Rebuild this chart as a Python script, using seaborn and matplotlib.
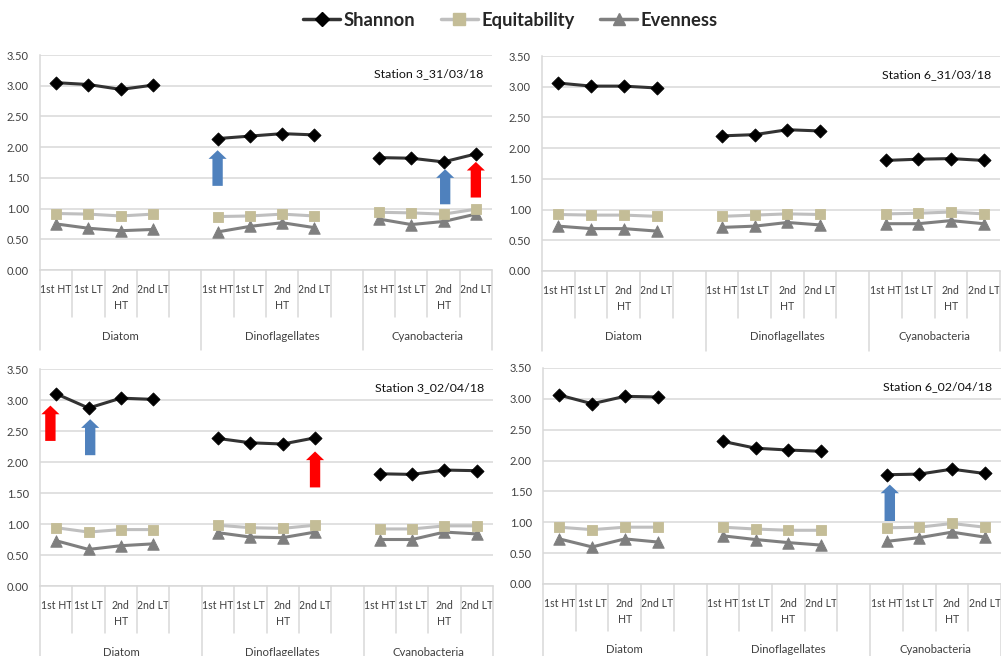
import numpy as np
import pandas as pd
import matplotlib
matplotlib.use("Agg")
import matplotlib.pyplot as plt
from matplotlib import font_manager
from matplotlib.lines import Line2D
from matplotlib.patches import FancyArrow
import seaborn as sns

# ---------------- data ----------------
groups = ["Diatom", "Dinoflagellates", "Cyanobacteria"]
tides = ["1st HT", "1st LT", "2nd\nHT", "2nd LT"]
stations = ["Station 3_31/03/18", "Station 6_31/03/18",
            "Station 3_02/04/18", "Station 6_02/04/18"]
indices = ["Shannon", "Equitability", "Evenness"]

shannon_s3_0331 = [3.05, 3.02, 2.94, 3.01, 2.14, 2.18, 2.22, 2.20, 1.83, 1.82, 1.76, 1.89]
equit_s3_0331 = [0.92, 0.91, 0.88, 0.91, 0.87, 0.88, 0.91, 0.88, 0.94, 0.93, 0.91, 0.99]
even_s3_0331 = [0.75, 0.68, 0.64, 0.66, 0.62, 0.71, 0.77, 0.69, 0.83, 0.74, 0.79, 0.91]

shannon_s6_0331 = [3.06, 3.01, 3.01, 2.98, 2.20, 2.22, 2.30, 2.28, 1.80, 1.82, 1.83, 1.80]
equit_s6_0331 = [0.92, 0.91, 0.91, 0.89, 0.89, 0.91, 0.93, 0.92, 0.93, 0.94, 0.96, 0.93]
even_s6_0331 = [0.73, 0.69, 0.69, 0.65, 0.71, 0.73, 0.79, 0.75, 0.77, 0.77, 0.82, 0.77]

shannon_s3_0204 = [3.10, 2.87, 3.03, 3.01, 2.38, 2.31, 2.29, 2.39, 1.81, 1.80, 1.87, 1.86]
equit_s3_0204 = [0.94, 0.87, 0.91, 0.91, 0.98, 0.94, 0.93, 0.98, 0.92, 0.92, 0.97, 0.97]
even_s3_0204 = [0.73, 0.59, 0.65, 0.68, 0.86, 0.79, 0.78, 0.87, 0.75, 0.75, 0.87, 0.84]

shannon_s6_0204 = [3.06, 2.92, 3.04, 3.03, 2.31, 2.20, 2.17, 2.15, 1.77, 1.78, 1.86, 1.79]
equit_s6_0204 = [0.92, 0.88, 0.92, 0.92, 0.92, 0.89, 0.87, 0.87, 0.91, 0.92, 0.98, 0.92]
even_s6_0204 = [0.73, 0.60, 0.73, 0.68, 0.78, 0.72, 0.67, 0.63, 0.69, 0.75, 0.84, 0.76]

panel_series = {
    stations[0]: (shannon_s3_0331, equit_s3_0331, even_s3_0331),
    stations[1]: (shannon_s6_0331, equit_s6_0331, even_s6_0331),
    stations[2]: (shannon_s3_0204, equit_s3_0204, even_s3_0204),
    stations[3]: (shannon_s6_0204, equit_s6_0204, even_s6_0204),
}

# highlight arrows: (station, category slot, base value, tip value, colour)
arrow_station = [stations[0], stations[0], stations[0],
                 stations[2], stations[2], stations[2], stations[3]]
arrow_slot = [5.0, 12.05, 13.0, -0.18, 1.05, 8.0, 10.1]
arrow_base = [1.37, 1.07, 1.18, 2.34, 2.11, 1.59, 1.02]
arrow_tip = [1.95, 1.64, 1.76, 2.91, 2.69, 2.17, 1.61]
arrow_color = ["#4F81BD", "#4F81BD", "#FF0000",
               "#FF0000", "#4F81BD", "#FF0000", "#4F81BD"]

# ---------------- long table ----------------
rows = []
for st, series in panel_series.items():
    for name, vals in zip(indices, series):
        for k, v in enumerate(vals):
            gi, ti = divmod(k, 4)
            rows.append(dict(station=st, group=groups[gi], tide=tides[ti],
                             index=name, value=v, pos=gi * 5 + ti))
df = pd.DataFrame(rows)

# ---------------- style ----------------
sns.set_style("white")
avail = {f.name for f in font_manager.fontManager.ttflist}
fam = [f for f in ["Lato", "Liberation Sans", "DejaVu Sans"] if f in avail]
plt.rcParams["font.family"] = fam
plt.rcParams["axes.unicode_minus"] = False

line_colors = {"Shannon": "#333333", "Equitability": "#BFBFBF", "Evenness": "#7F7F7F"}
marker_colors = {"Shannon": "#000000", "Equitability": "#C4BD97", "Evenness": "#7F7F7F"}
marker_shapes = {"Shannon": "D", "Equitability": "s", "Evenness": "^"}
marker_sizes = {"Shannon": 45, "Equitability": 58, "Evenness": 68}

fig = plt.figure(figsize=(10.01, 6.56), dpi=100)
positions = [
    [0.040, 0.5884, 0.4515, 0.3277],
    [0.5415, 0.5869, 0.4575, 0.3277],
    [0.040, 0.1067, 0.4525, 0.3308],
    [0.5425, 0.1098, 0.4575, 0.3293],
]

grid_c = "#D9D9D9"
text_c = "#404040"
tick_pos = [g * 5 + t for g in range(3) for t in range(4)]
tick_lab = [tides[t] for g in range(3) for t in range(4)]

for st, rect in zip(stations, positions):
    ax = fig.add_axes(rect)
    d = df[df.station == st]
    for name in indices:
        sub = d[d["index"] == name]
        sns.lineplot(data=sub, x="pos", y="value", units="group", estimator=None,
                     color=line_colors[name], lw=2.2, ax=ax, legend=False, sort=True)
    for name in indices[::-1]:
        sub = d[d["index"] == name]
        sns.scatterplot(data=sub, x="pos", y="value", marker=marker_shapes[name],
                        color=marker_colors[name], edgecolor=marker_colors[name],
                        s=marker_sizes[name], ax=ax, legend=False, zorder=5)
    ax.set_xlim(-0.5, 13.5)
    ax.set_ylim(0, 3.5)
    ax.set_yticks(np.arange(0, 3.51, 0.5))
    ax.set_yticklabels([f"{v:.2f}" for v in np.arange(0, 3.51, 0.5)])
    ax.yaxis.grid(True, color=grid_c, lw=1.1)
    ax.set_axisbelow(True)
    ax.set_xlabel("")
    ax.set_ylabel("")
    for s in ["top", "right"]:
        ax.spines[s].set_visible(False)
    ax.spines["left"].set_color(grid_c)
    ax.spines["bottom"].set_color(grid_c)
    ax.spines["left"].set_linewidth(1.1)
    ax.spines["bottom"].set_linewidth(1.1)
    ax.tick_params(axis="y", length=5, color=grid_c, labelsize=8,
                   labelcolor=text_c, pad=3)
    ax.set_xticks(tick_pos)
    ax.set_xticklabels(tick_lab)
    ax.tick_params(axis="x", length=0, labelsize=7.6, labelcolor=text_c, pad=10)
    for lab in ax.get_xticklabels():
        lab.set_linespacing(1.6)

    # multi-level category separators
    tr = ax.get_xaxis_transform()
    h_px = rect[3] * 656
    for b in range(15):
        xb = b - 0.5
        if b in (0, 5, 10, 14):
            ax.plot([xb, xb], [0, -80 / h_px], transform=tr, color=grid_c,
                    lw=1.1, clip_on=False)
        else:
            ax.plot([xb, xb], [0, -47 / h_px], transform=tr, color=grid_c,
                    lw=1.1, clip_on=False)
    group_centers = [2.0, 7.0, 11.5]
    for g, cx in zip(groups, group_centers):
        ax.text(cx, -66 / h_px, g, transform=tr, ha="center", va="center",
                fontsize=8.2, color=text_c)

    ax.text(0.98, 0.915, st, transform=ax.transAxes, ha="right", va="center",
            fontsize=8.9, color="#111111")

    for a_st, xs, y0, y1, c in zip(arrow_station, arrow_slot, arrow_base,
                                   arrow_tip, arrow_color):
        if a_st != st:
            continue
        ax.add_patch(FancyArrow(xs, y0, 0, y1 - y0, width=0.32, head_width=0.56,
                                head_length=0.14, length_includes_head=True,
                                color=c, lw=0, zorder=6))

handles = [Line2D([], [], color=line_colors[n], lw=2.5, marker=marker_shapes[n],
                  markerfacecolor=marker_colors[n], markeredgecolor=marker_colors[n],
                  markersize=7 if n == "Shannon" else 8)
           for n in indices]
fig.legend(handles, indices, loc="center", bbox_to_anchor=(0.51, 0.969), ncol=3,
           frameon=False, handlelength=2.0, handletextpad=0.2, columnspacing=1.4,
           prop={"weight": "bold", "size": 13.2})

fig.savefig("out.png", dpi=100, facecolor="white")
